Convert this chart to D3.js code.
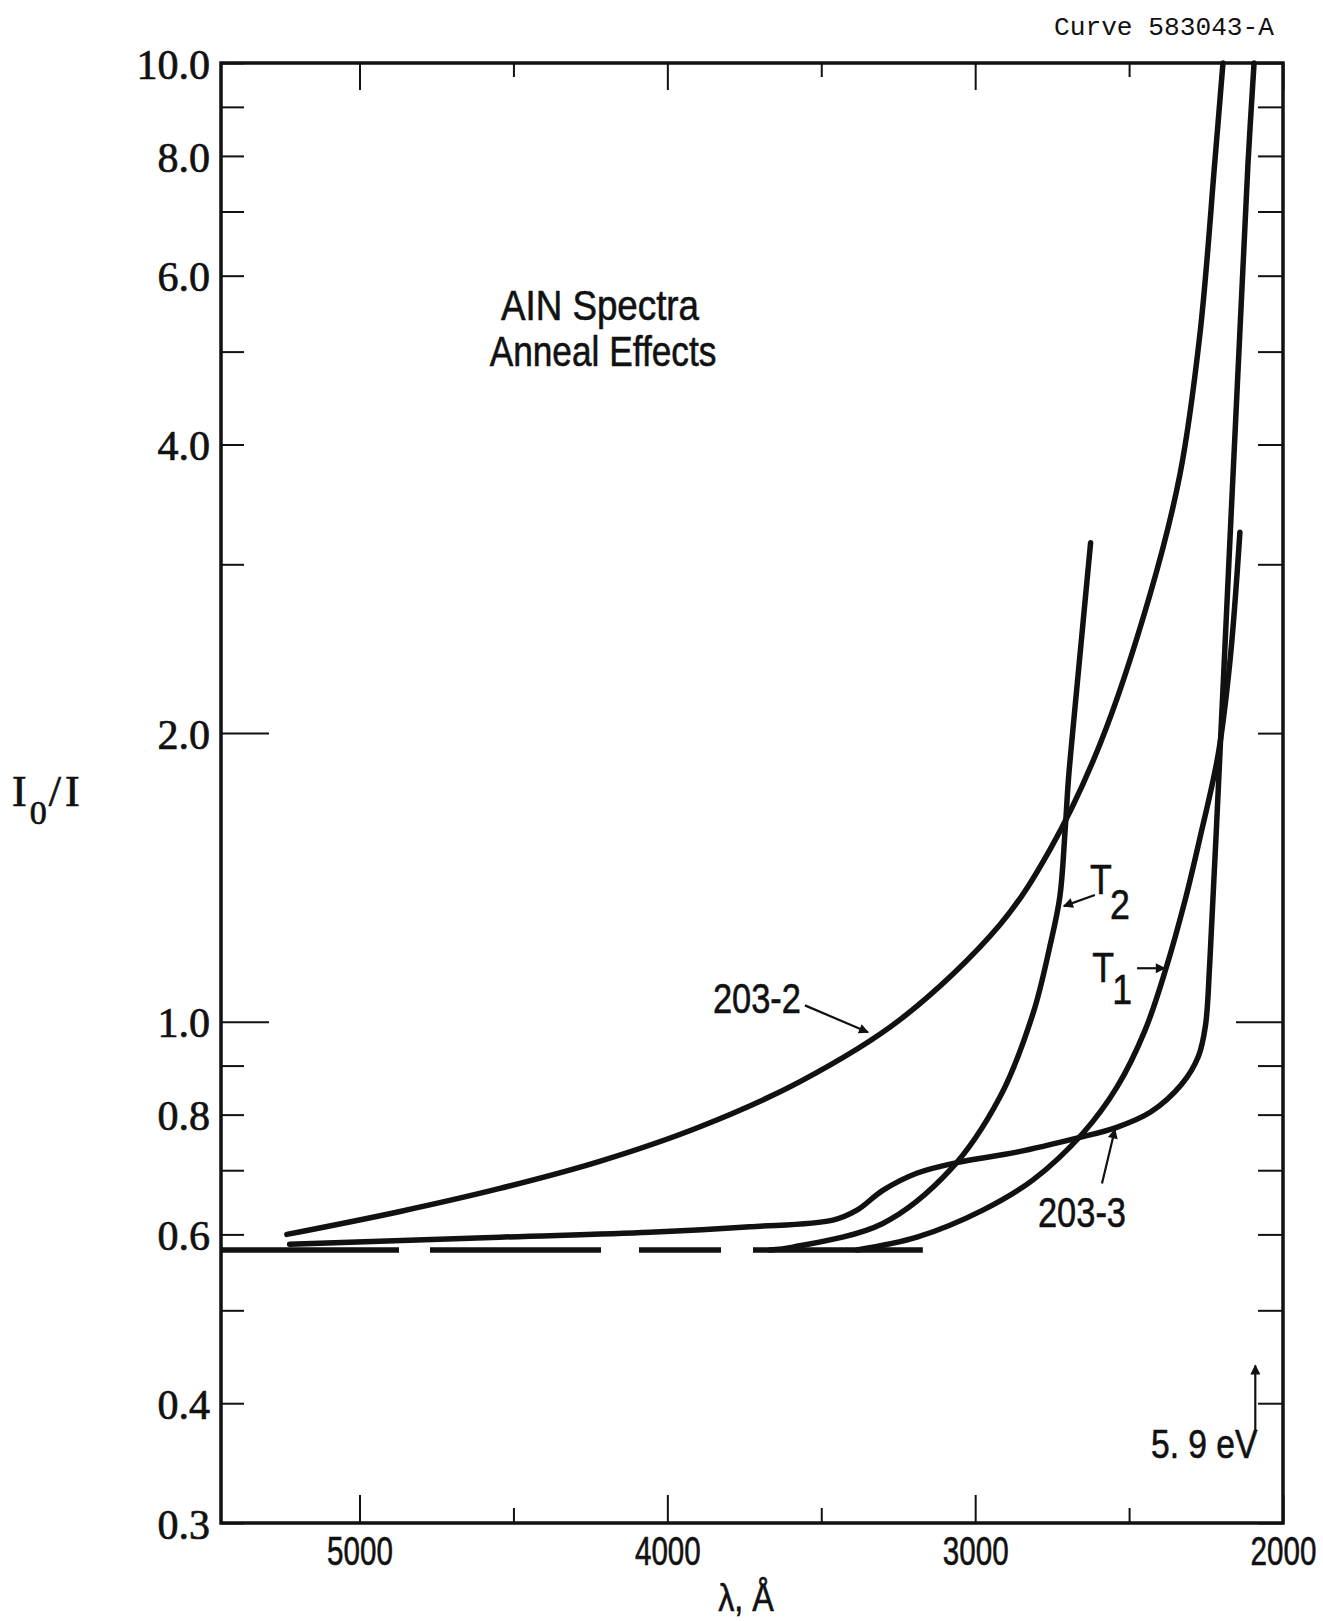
<!DOCTYPE html>
<html>
<head>
<meta charset="utf-8">
<script src="https://cdn.jsdelivr.net/npm/d3@7"></script>
<style>
  html, body { margin: 0; padding: 0; background: #fff; }
  svg { display: block; }
</style>
</head>
<body>
<svg id="chart" width="1323" height="1621"></svg>
<script>
// ---------- data (wavelength in Å, I0/I) ----------
const yMajorTicks = [0.3, 0.4, 0.6, 0.8, 1, 2, 4, 6, 8, 10];
const yMajorLabels = ["0.3", "0.4", "0.6", "0.8", "1.0", "2.0", "4.0", "6.0", "8.0", "10.0"];
const yMinorTicks = [0.5, 0.7, 0.9, 3, 5, 7, 9];
const xMajorTicks = [5000, 4000, 3000, 2000];
const xMajorLabels = ["5000", "4000", "3000", "2000"];
const xMinorTicks = [4500, 3500, 2500];

const curve203_2 = [
  [5236, 0.600], [4868, 0.634], [4544, 0.670], [4220, 0.715], [3894, 0.777],
  [3569, 0.866], [3244, 1.005], [2919, 1.263], [2757, 1.512], [2595, 1.946],
  [2432, 2.79], [2335, 3.72], [2270, 5.21], [2221, 7.92], [2195, 10.0]
];
const curve203_3 = [
  [5227, 0.586], [4545, 0.596], [4057, 0.603], [3732, 0.611], [3462, 0.621],
  [3384, 0.636], [3300, 0.667], [3190, 0.695], [3050, 0.714], [2865, 0.731],
  [2670, 0.756], [2540, 0.776], [2430, 0.805], [2330, 0.860], [2275, 0.920],
  [2252, 0.99], [2238, 1.15], [2205, 1.90], [2172, 3.20],
  [2140, 5.25], [2114, 7.83], [2094, 10.0]
];
const curveT2 = [
  [3667, 0.578], [3592, 0.582], [3300, 0.616], [3082, 0.700], [2920, 0.834],
  [2812, 1.02], [2757, 1.20], [2725, 1.35], [2708, 1.58], [2697, 1.79],
  [2681, 2.04], [2649, 2.62], [2625, 3.16]
];
const curveT1 = [
  [3384, 0.578], [3189, 0.596], [2975, 0.636], [2812, 0.684], [2650, 0.765],
  [2539, 0.855], [2448, 0.980], [2380, 1.137], [2318, 1.339], [2270, 1.554],
  [2211, 1.897], [2172, 2.383], [2140, 3.24]
];
const baseline = [[5450, 0.578], [3170, 0.578]];

// ---------- layout ----------
const svg = d3.select("#chart");
const L = 221, R = 1283, T = 63, B = 1523;
const x = d3.scaleLinear().domain([5450, 2000]).range([L, R]);
const y = d3.scaleLog().domain([0.3, 10]).range([B, T]);

const ink = "#111";
const serif = "'Liberation Serif', 'DejaVu Serif', serif";
const sans = "'Liberation Sans', Arial, sans-serif";
const mono = "'Liberation Mono', 'DejaVu Sans Mono', monospace";

// frame
svg.append("rect").attr("x", L).attr("y", T).attr("width", R - L).attr("height", B - T)
  .attr("fill", "none").attr("stroke", ink).attr("stroke-width", 3.5);

function styleAxis(g) {
  g.select(".domain").remove();
  g.selectAll(".tick line").attr("stroke", ink).attr("stroke-width", 2);
}
function serifLabels(g) {
  g.selectAll("text").attr("font-family", serif).attr("font-size", 42).attr("fill", ink)
    .attr("stroke", ink).attr("stroke-width", 0.7).attr("dy", "0.36em");
}

// left axis
const longTicks = [1, 2];
svg.append("g").attr("transform", `translate(${L},0)`)
  .call(d3.axisLeft(y).tickValues(yMajorTicks.filter(v => !longTicks.includes(v))).tickSizeInner(-23).tickSizeOuter(0)
    .tickFormat(d => yMajorLabels[yMajorTicks.indexOf(d)]).tickPadding(11))
  .call(styleAxis).call(serifLabels);
svg.append("g").attr("transform", `translate(${L},0)`)
  .call(d3.axisLeft(y).tickValues(longTicks).tickSizeInner(-48).tickSizeOuter(0)
    .tickFormat(d => yMajorLabels[yMajorTicks.indexOf(d)]).tickPadding(11))
  .call(styleAxis).call(serifLabels);
svg.append("g").attr("transform", `translate(${L},0)`)
  .call(d3.axisLeft(y).tickValues(yMinorTicks).tickSizeInner(-23).tickSizeOuter(0).tickFormat(""))
  .call(styleAxis);

// right axis
svg.append("g").attr("transform", `translate(${R},0)`)
  .call(d3.axisRight(y).tickValues(yMajorTicks.concat(yMinorTicks).filter(v => v !== 1)).tickSizeInner(-25).tickSizeOuter(0).tickFormat(""))
  .call(styleAxis);
svg.append("g").attr("transform", `translate(${R},0)`)
  .call(d3.axisRight(y).tickValues([1]).tickSizeInner(-47).tickSizeOuter(0).tickFormat(""))
  .call(styleAxis);

// bottom axis
svg.append("g").attr("transform", `translate(0,${B})`)
  .call(d3.axisBottom(x).tickValues(xMajorTicks).tickSizeInner(-28).tickSizeOuter(0)
    .tickFormat(d => xMajorLabels[xMajorTicks.indexOf(d)]).tickPadding(14))
  .call(styleAxis)
  .call(g => g.selectAll("text").attr("font-family", sans).attr("font-size", 40).attr("fill", ink)
    .attr("stroke", ink).attr("stroke-width", 0.6)
    .attr("dy", "0.71em").attr("transform", "scale(0.74,1)"));
svg.append("g").attr("transform", `translate(0,${B})`)
  .call(d3.axisBottom(x).tickValues(xMinorTicks).tickSizeInner(-15).tickSizeOuter(0).tickFormat(""))
  .call(styleAxis);

// top axis
svg.append("g").attr("transform", `translate(0,${T})`)
  .call(d3.axisTop(x).tickValues(xMajorTicks).tickSizeInner(-27).tickSizeOuter(0).tickFormat(""))
  .call(styleAxis);
svg.append("g").attr("transform", `translate(0,${T})`)
  .call(d3.axisTop(x).tickValues(xMinorTicks).tickSizeInner(-14).tickSizeOuter(0).tickFormat(""))
  .call(styleAxis);

// ---------- curves ----------
const lineSmooth = d3.line().x(d => x(d[0])).y(d => y(d[1])).curve(d3.curveCatmullRom.alpha(0.5));
const plot = svg.append("g");
[curve203_2, curve203_3, curveT2, curveT1].forEach(c => {
  plot.append("path").datum(c).attr("d", lineSmooth)
    .attr("fill", "none").attr("stroke", ink).attr("stroke-width", 5.5)
    .attr("stroke-linecap", "round").attr("stroke-linejoin", "round");
});
plot.append("path").datum(baseline).attr("d", d3.line().x(d => x(d[0])).y(d => y(d[1])))
  .attr("fill", "none").attr("stroke", ink).attr("stroke-width", 5.5)
  .attr("stroke-dasharray", "178,31,171,38,82,32,170");

// ---------- annotations ----------
const defs = svg.append("defs");
defs.append("marker").attr("id", "ah").attr("viewBox", "0 0 10 10").attr("refX", 9).attr("refY", 5)
  .attr("markerWidth", 15).attr("markerHeight", 10).attr("markerUnits", "userSpaceOnUse")
  .attr("orient", "auto")
  .append("path").attr("d", "M0,0 L10,5 L0,10 Z").attr("fill", ink);

function arrow(a, b) {
  svg.append("line").attr("x1", x(a[0])).attr("y1", y(a[1])).attr("x2", x(b[0])).attr("y2", y(b[1]))
    .attr("stroke", ink).attr("stroke-width", 2.2).attr("marker-end", "url(#ah)");
}
function sansText(str, px, py, size, sx, anchor) {
  return svg.append("text").attr("transform", `translate(${px},${py}) scale(${sx},1)`)
    .attr("font-family", sans).attr("font-size", size).attr("fill", ink)
    .attr("stroke", ink).attr("stroke-width", 0.6)
    .attr("text-anchor", anchor || "start").text(str);
}

sansText("203-2", x(3852), y(1.02), 42, 0.82);
arrow([3553, 1.04], [3348, 0.975]);

const t2 = sansText("", x(2627), y(1.36), 42, 0.85);
t2.append("tspan").text("T");
t2.append("tspan").attr("dy", 25).attr("dx", -2).text("2");
arrow([2611, 1.356], [2712, 1.32]);

const t1 = sansText("", x(2620), y(1.10), 42, 0.85);
t1.append("tspan").text("T");
t1.append("tspan").attr("dy", 22).attr("dx", -2).text("1");
arrow([2474, 1.137], [2384, 1.137]);

sansText("203-3", x(2796), y(0.611), 42, 0.82);
arrow([2588, 0.678], [2546, 0.772]);

sansText("5. 9 eV", x(2083), y(0.351), 40, 0.84, "end");
arrow([2090, 0.375], [2090, 0.438]);

// title
sansText("AIN Spectra", 600, 320, 42, 0.875, "middle");
sansText("Anneal Effects", 603, 366, 42, 0.84, "middle");

// axis titles
const yl = svg.append("text").attr("x", 12).attr("y", 806)
  .attr("font-family", serif).attr("font-size", 44).attr("fill", ink)
  .attr("stroke", ink).attr("stroke-width", 0.7);
yl.append("tspan").text("I");
yl.append("tspan").attr("dx", 3).attr("dy", 18).attr("font-size", 34).text("0");
yl.append("tspan").attr("dy", -18).attr("dx", 2).text("/");
yl.append("tspan").attr("dx", 4).text("I");

sansText("λ, Å", 746, 1611, 38, 0.85, "middle");

svg.append("text").attr("x", 1054).attr("y", 35)
  .attr("font-family", mono).attr("font-size", 26).attr("fill", ink)
  .attr("textLength", 220).attr("lengthAdjust", "spacingAndGlyphs").text("Curve 583043-A");
</script>
</body>
</html>
